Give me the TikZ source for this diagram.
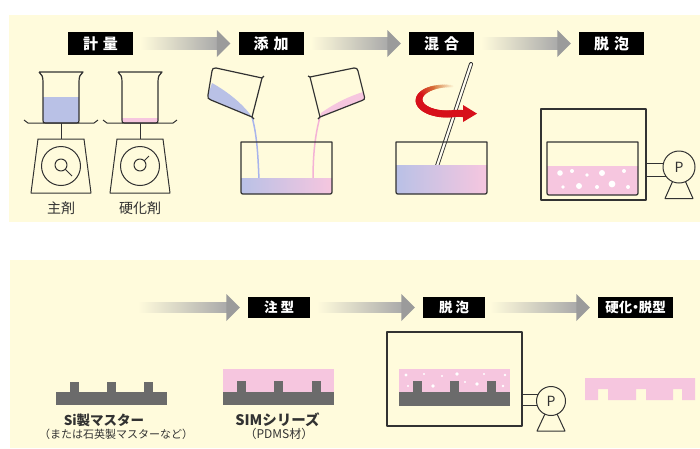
\documentclass[tikz,border=0pt]{standalone}
\usepackage{fontspec}
\setmainfont{Noto Sans CJK JP}
\usetikzlibrary{calc}

\definecolor{bgy}{RGB}{255,251,220}
\definecolor{ink}{RGB}{50,50,50}
\definecolor{liqblue}{RGB}{185,193,230}
\definecolor{liqpink}{RGB}{246,198,223}
\definecolor{streamblue}{RGB}{168,180,236}
\definecolor{streampink}{RGB}{244,178,214}
\definecolor{mastergray}{RGB}{107,107,107}
\definecolor{arrgray}{RGB}{155,155,155}
\definecolor{stirred}{RGB}{215,16,26}
\definecolor{stirorange}{RGB}{214,120,60}

\tikzset{
  stepbox/.style={fill=black, text=white, inner sep=0pt, minimum height=23pt,
    minimum width=65pt, font=\fontsize{15}{15}\selectfont\bfseries},
  stepboxsm/.style={fill=black, text=white, inner sep=0pt, minimum height=21pt,
    minimum width=62pt, font=\fontsize{13.5}{13.5}\selectfont\bfseries},
  lab/.style={text=ink, inner sep=0pt, font=\fontsize{14}{14}\selectfont},
  labb/.style={text=ink, inner sep=0pt, font=\fontsize{13.5}{13.5}\selectfont\bfseries},
  labs/.style={text=ink, inner sep=0pt, font=\fontsize{11}{11}\selectfont},
  outline/.style={draw=ink, line width=1.2pt, line join=round},
  thin outline/.style={draw=ink, line width=1pt, line join=round},
  pumpmark/.style={inner sep=0pt, text=ink, font=\fontsize{14}{14}\selectfont},
}

% process arrow: fading body, grey head; #1 start, #2 tip, #3 half thickness
\newcommand\flowarrow[3]{%
  \shade[left color=bgy, right color=arrgray!85!white]
    ($(#1)+(0,-#3)$) rectangle ($(#2)+(-13,#3)$);
  \fill[arrgray] ($(#2)+(-13.5,-13.5)$) -- (#2) -- ($(#2)+(-13.5,13.5)$) -- cycle;
}

% vacuum pump: circle with P on a triangular stand
\newcommand\vacpump[4]{% #1 name, #2 x, #3 y, #4 radius
  \draw[thin outline] (#2-14,#3+#4+15.5) -- (#2,#3) -- (#2+14,#3+#4+15.5) -- cycle;
  \draw[thin outline, fill=bgy] (#2,#3) circle[radius=#4];
  \node[pumpmark] (#1) at (#2,#3) {P};
}

\begin{document}
\begin{tikzpicture}[x=1pt,y=-1pt]
\useasboundingbox (0,0) rectangle (700,448);
\fill[white] (0,0) rectangle (700,448);
\fill[bgy] (9,15) rectangle (700,222);
\fill[bgy] (10,260) rectangle (700,448);

% ---------------- upper row: step labels and arrows
\node[stepbox] (t1) at (100.5,43.5) {計\hspace{5pt}量};
\node[stepbox] (t2) at (271,43.5) {添\hspace{5pt}加};
\node[stepbox] (t3) at (441.5,43.5) {混\hspace{5pt}合};
\node[stepbox] (t4) at (611.5,43.5) {脱\hspace{5pt}泡};
\coordinate (a1s) at ($(t1.east)+(7,0)$);  \coordinate (a1e) at ($(t2.west)+(-8,0)$);
\coordinate (a2s) at ($(t2.east)+(7,0)$);  \coordinate (a2e) at ($(t3.west)+(-8,0)$);
\coordinate (a3s) at ($(t3.east)+(7,0)$);  \coordinate (a3e) at ($(t4.west)+(-8,0)$);
\flowarrow{a1s}{a1e}{6}
\flowarrow{a2s}{a2e}{6}
\flowarrow{a3s}{a3e}{6}

% ---------------- weighing: two scales
\foreach \dx/\liq/\lev/\nx/\ny/\nm/\txt in
   {0/liqblue/97/72/176/s1/主剤, 79/liqpink/118/70/156/s2/硬化剤} {
  \begin{scope}[xshift=\dx pt]
    \fill[\liq] (43,\lev) -- (43,120) .. controls (43,123) .. (46,123)
      -- (76,123) .. controls (79,123) .. (79,120) -- (79,\lev) -- cycle;
    \draw[outline] (39,72) -- (83,72) .. controls (80,74) and (79,77) .. (79,82)
      -- (79,120) .. controls (79,123) .. (76,123) -- (46,123)
      .. controls (43,123) .. (43,120) -- (43,82)
      .. controls (43,77) and (42,74) .. (39,72);
    \draw[thin outline] (24,120) -- (28,123) -- (94,123) -- (98,120);
    \draw[thin outline] (61,123) -- (61,139);
    \draw[thin outline] (38,139) -- (84,139) -- (91,193) -- (31,193) -- cycle;
    \draw[thin outline] (61,166) circle[radius=19.5];
    \draw[thin outline] (61,165) circle[radius=6];
    \draw[thin outline] ($(61,165)!6pt!(\nx,\ny)$) -- (\nx,\ny);
    \node[lab] (\nm) at (61,208) {\txt};
  \end{scope}
}

% ---------------- adding: two tilted beakers pouring into a basin
\draw[streamblue, line width=1.5pt] (252,117) .. controls (257,135) and (258,155) .. (259,180);
\draw[streampink, line width=1.5pt] (320,117) .. controls (315,135) and (313,155) .. (313,180);
\shade[left color=liqblue, right color=liqpink] (241,178) -- (241,190)
  .. controls (241,194) .. (245,194) -- (328,194) .. controls (332,194) .. (332,190)
  -- (332,178) -- cycle;
\draw[outline] (241,142) -- (241,190) .. controls (241,194) .. (245,194) -- (328,194)
  .. controls (332,194) .. (332,190) -- (332,142) -- cycle;
% left beaker
\fill[liqblue] (212,83) .. controls (228,92) and (243,104) .. (252,117)
  -- (211,100) .. controls (208,99) and (207.5,98) .. (208,95) -- cycle;
\draw[outline] (264,76) -- (262,78) -- (216,68) .. controls (213,67.5) and (212.5,69) .. (212,71)
  -- (208,95) .. controls (207.5,98) and (208,99) .. (211,100) -- (252,117) -- (254,119);
\draw[outline] (262,78) -- (252,117);
% right beaker
\fill[liqpink] (321,113) .. controls (335,103) and (350,96) .. (363,92)
  -- (364.5,97) .. controls (365,99) and (364,100) .. (362,100.5) -- (320,117) -- cycle;
\draw[outline] (308,76) -- (310,77) -- (354,68) .. controls (356.5,67.5) and (357.5,69) .. (358,71)
  -- (364.5,97) .. controls (365,99) and (364,100) .. (362,100.5) -- (320,117) -- (318,119);
\draw[outline] (310,77) -- (320,117);

% ---------------- mixing: basin, stirring rod, rotation arrow
\draw[ink, line width=4pt, line cap=round] (471,64) -- (437,166);
\draw[white!60!bgy, line width=2.2pt, line cap=round] (471,64) -- (437,166);
\shade[left color=liqblue, right color=liqpink] (396,165) -- (396,190)
  .. controls (396,194) .. (400,194) -- (483,194) .. controls (487,194) .. (487,190)
  -- (487,165) -- cycle;
\draw[outline] (396,142) -- (396,190) .. controls (396,194) .. (400,194) -- (483,194)
  .. controls (487,194) .. (487,190) -- (487,142) -- cycle;
\foreach \ang in {75,79,...,283} {
  \pgfmathsetmacro\angb{\ang+5}
  \pgfmathsetmacro\stirW{2+5*min(1,(\ang-75)/110)}
  \pgfmathsetmacro\stirA{max(0,min(100,(\ang-75)/45*100))}
  \pgfmathsetmacro\stirB{max(0,min(100,(\ang-115)/50*100))}
  \draw[line width=\stirW pt, line cap=round, color=stirred!\stirB!stirorange!\stirA!bgy]
    ({447+28*cos(\ang)},{100-14*sin(\ang)}) -- ({447+28*cos(\angb)},{100-14*sin(\angb)});
}
\draw[stirred, line width=7pt] (455.7,113.3) -- (465,113.6);
\fill[stirred] (463,105) -- (477,113.6) -- (463,122) -- cycle;

% ---------------- degassing (upper)
\draw[outline] (541,109) rectangle (646,200);
\fill[liqpink] (547,166) -- (547,191) .. controls (547,195) .. (551,195) -- (634,195)
  .. controls (638,195) .. (638,191) -- (638,166) -- cycle;
\draw[outline] (547,142) -- (547,191) .. controls (547,195) .. (551,195) -- (634,195)
  .. controls (638,195) .. (638,191) -- (638,142) -- cycle;
\foreach \bx/\by/\br in {560/173/2.8, 572/171/2, 587/175/1.8, 602/173/3, 624/171/2,
                         563/187/1.8, 579/186/3, 597/187/2, 612/184/3.4, 628/187/2}
  \fill[white] (\bx,\by) circle[radius=\br];
\draw[thin outline] (646,163) -- (663.5,163);
\draw[thin outline] (646,176) -- (665.8,176);
\vacpump{p1}{679}{167}{16}

% ---------------- lower row: step labels and arrows
\node[stepboxsm] (b1) at (279,307.5) {注\hspace{3pt}型};
\node[stepboxsm] (b2) at (454,307.5) {脱\hspace{3pt}泡};
\node[stepboxsm, minimum width=75pt] (b3) at (635.5,307.5) {硬化\hspace{-3.5pt}・\hspace{-3.5pt}脱型};
\coordinate (c0s) at (138,307.5);           \coordinate (c0e) at ($(b1.west)+(-8,0)$);
\coordinate (c1s) at ($(b1.east)+(7,0)$);   \coordinate (c1e) at ($(b2.west)+(-8,0)$);
\coordinate (c2s) at ($(b2.east)+(5,0)$);   \coordinate (c2e) at ($(b3.west)+(-8,0)$);
\flowarrow{c0s}{c0e}{5}
\flowarrow{c1s}{c1e}{5}
\flowarrow{c2s}{c2e}{5}

% master
\fill[mastergray] (56,392) rectangle (167,405);
\foreach \tx in {70,107,144} \fill[mastergray] (\tx,382) rectangle (\tx+9,392.5);
\node[labb] (m1) at (104,420) {Si製マスター};
\node[labs] (m2) at (116,434) {（または石英製マスターなど）};

% casting
\fill[liqpink] (223,369) rectangle (334,392);
\fill[mastergray] (223,392) rectangle (334,405);
\foreach \tx in {237,274,312} \fill[mastergray] (\tx,381) rectangle (\tx+9,392.5);
\node[labb, font=\fontsize{14.5}{14.5}\selectfont\bfseries] (c1) at (277.5,420) {SIMシリーズ};
\node[labs, font=\fontsize{12}{12}\selectfont] (c2) at (279,434) {（PDMS材）};

% degassing (lower)
\draw[outline] (387,332) rectangle (522,426);
\fill[liqpink] (399,369) rectangle (510,392);
\fill[mastergray] (399,392) rectangle (510,406);
\foreach \tx in {413,450,487} \fill[mastergray] (\tx,381) rectangle (\tx+9,392.5);
\foreach \bx/\by/\br in {406/375/1.6, 424/374/1.1, 442/376/1.1, 457/374/1.8, 484/374/1.1,
                         505/375/1.4, 408/386/1.1, 433/386/1.8, 465/382/1.1, 477/384/1.8,
                         503/386/1.4}
  \fill[white] (\bx,\by) circle[radius=\br];
\draw[thin outline] (522,394) -- (538.3,394);
\draw[thin outline] (522,405) -- (537,405);
\vacpump{p2}{551}{401}{14.5}

% cured, released part
\fill[liqpink] (585,378) -- (695,378) -- (695,400) -- (682,400) -- (682,389)
  -- (673,389) -- (673,400) -- (646,400) -- (646,389) -- (636,389) -- (636,400)
  -- (608,400) -- (608,389) -- (598,389) -- (598,400) -- (585,400) -- cycle;
\end{tikzpicture}
\end{document}
